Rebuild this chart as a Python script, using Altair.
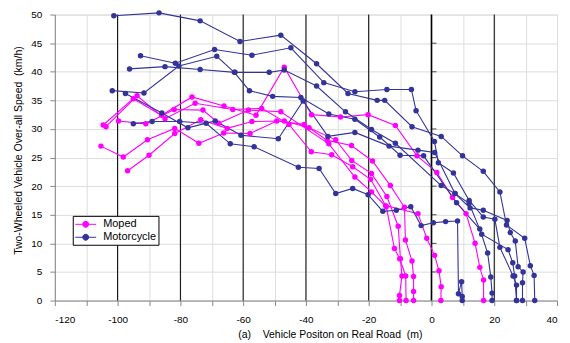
import altair as alt
import pandas as pd

# ---- Moped runs (position m, speed km/h) ----
moped_1_x = [-105.3, -98.2, -90.5, -81.8, -74.1, -66.2, -57.8, -49.3, -40.6, -33.2, -25.5, -18.8, -13.1, -8.6, -8.3, -6.2, -5.7, -5.7, -5.7]
moped_1_y = [27.0, 25.1, 28.1, 30.1, 27.5, 29.3, 29.2, 31.4, 30.8, 28.0, 27.1, 24.4, 20.1, 16.3, 10.6, 6.9, 4.2, 1.6, 0.0]
moped_2_x = [-96.8, -90.0, -81.8, -73.5, -65.1, -57.2, -46.9, -39.0, -30.5, -25.4, -19.1, -14.2, -10.6, -9.9, -9.4, -10.2, -10.2]
moped_2_y = [22.7, 25.4, 29.2, 31.6, 30.1, 31.3, 31.4, 30.2, 28.1, 24.5, 22.2, 18.2, 13.0, 7.3, 4.3, 0.9, 0.0]
moped_3_x = [-104.6, -95.0, -86.0, -76.3, -66.1, -55.9, -46.9, -38.2, -29.0, -20.2, -11.5, -4.6, 1.7, 6.7, 11.0, 13.9, 15.4, 16.6, 16.6]
moped_3_y = [30.7, 35.3, 32.4, 35.6, 34.0, 32.4, 40.8, 32.5, 32.1, 32.5, 30.6, 25.3, 22.4, 18.0, 15.2, 10.0, 5.8, 3.6, 0.0]
moped_4_x = [-103.7, -93.8, -84.9, -75.3, -63.3, -54.1, -45.4, -38.3, -31.8, -25.1, -19.4, -14.6, -4.3, -1.5, 1.0, 2.4, 3.1, 3.0]
moped_4_y = [30.4, 35.8, 31.8, 34.5, 33.4, 33.6, 30.8, 26.0, 25.5, 23.4, 21.2, 16.6, 15.2, 10.9, 7.9, 5.2, 2.4, 0.0]
moped_5_x = [-99.7, -91.0, -82.0, -72.8, -67.8, -58.3, -48.0, -32.7, -24.4, -19.1, -14.4, -11.8, -10.1, -8.2, -8.1]
moped_5_y = [31.4, 30.9, 33.4, 33.3, 31.0, 33.3, 33.0, 27.4, 21.6, 19.0, 16.4, 9.1, 7.3, 4.3, 0.0]

# ---- Motorcycle runs ----
moto_1_x = [-101.2, -86.8, -73.7, -61.0, -48.0, -36.6, -26.6, -17.3, -14.9, -6.2, 3.1, 9.9, 16.5, 21.8, 23.9, 29.7, 31.5, 32.7, 32.9]
moto_1_y = [49.8, 50.3, 48.9, 45.3, 46.4, 41.4, 36.2, 35.0, 35.0, 30.4, 28.7, 25.3, 22.6, 19.0, 13.2, 10.9, 6.1, 4.4, 0.0]
moto_2_x = [-92.7, -81.6, -69.1, -57.2, -44.8, -34.3, -24.4, -14.2, -6.4, -4.9, 0.95, 2.2, 7.0, 12.0, 16.5, 20.2, 21.8, 26.0, 27.1, 27.1]
moto_2_y = [42.8, 41.5, 43.9, 42.9, 44.2, 38.1, 36.5, 36.9, 36.9, 33.2, 27.8, 24.1, 22.3, 17.5, 14.6, 14.2, 9.3, 4.3, 2.7, 0.0]
moto_3_x = [-96.2, -84.9, -73.7, -62.6, -51.7, -46.9, -36.6, -27.4, -19.1, -11.5, 3.1, 7.5, 12.3, 16.5, 24.1, 25.1, 26.7, 27.6, 29.2, 29.0, 29.0]
moto_3_y = [40.5, 40.9, 40.4, 39.9, 39.9, 40.3, 37.5, 33.0, 29.9, 27.5, 20.1, 18.7, 16.2, 15.8, 14.0, 11.9, 10.4, 5.9, 5.0, 3.1, 0.0]
moto_4_x = [-101.7, -91.6, -80.5, -68.4, -62.8, -58.0, -50.6, -41.6, -32.7, -24.4, -16.5, -10.0, -2.5, 8.0, 15.4, 17.9, 18.9, 19.3, 19.3]
moto_4_y = [36.7, 36.3, 41.0, 42.7, 39.9, 36.7, 35.7, 35.5, 32.6, 31.7, 28.6, 25.4, 25.3, 17.1, 12.5, 8.3, 4.1, 1.3, 0.0]
moto_5_x = [-97.5, -85.9, -77.6, -68.9, -60.7, -48.8, -40.9, -33.0, -24.4, -13.5, -4.3, 1.0, 7.5, 12.0, 16.0, 24.4, 25.9, 26.5, 27.1]
moto_5_y = [36.2, 32.8, 30.2, 31.4, 28.9, 28.3, 34.9, 28.7, 29.4, 27.0, 26.3, 25.9, 18.7, 17.0, 11.6, 8.9, 6.6, 4.3, 0.0]
moto_6_x = [-95.0, -89.0, -80.2, -71.8, -64.1, -56.5, -42.4, -35.8, -30.5, -25.1, -20.2, -15.5, -11.2, -6.6, -3.3, 0.6, 4.5, 8.3, 8.6, 9.6, 9.8, 9.8]
moto_6_y = [30.9, 31.3, 31.3, 31.0, 27.4, 26.9, 23.3, 23.1, 18.7, 19.6, 18.5, 15.6, 15.8, 16.4, 13.1, 13.6, 13.8, 13.9, 1.2, 3.3, 0.7, 0.0]

categories = ["Moped", "Motorcycle"]
colors = ["#ff00ff", "#333399"]
major_x = [-100, -80, -60, -40, -20, 20]
zero_x = [0]
speed_ticks = [5, 10, 15, 20, 25, 30, 35, 40, 45]

runs = [
    ("Moped", moped_1_x, moped_1_y), ("Moped", moped_2_x, moped_2_y),
    ("Moped", moped_3_x, moped_3_y), ("Moped", moped_4_x, moped_4_y),
    ("Moped", moped_5_x, moped_5_y),
    ("Motorcycle", moto_1_x, moto_1_y), ("Motorcycle", moto_2_x, moto_2_y),
    ("Motorcycle", moto_3_x, moto_3_y), ("Motorcycle", moto_4_x, moto_4_y),
    ("Motorcycle", moto_5_x, moto_5_y), ("Motorcycle", moto_6_x, moto_6_y),
]
rows = []
for i, (kind, xs, ys) in enumerate(runs):
    for j, (xv, yv) in enumerate(zip(xs, ys)):
        rows.append({"type": kind, "run": i, "idx": j, "pos": xv, "speed": yv})
df = pd.DataFrame(rows)

FONT = "Liberation Sans"
NB = "\u00a0"
xscale = alt.Scale(domain=[-120, 40], nice=False, zero=False)
yscale = alt.Scale(domain=[0, 50], nice=False)
cscale = alt.Scale(domain=categories, range=colors)

xaxis = alt.Axis(
    values=list(range(-120, 41, 10)),
    labelExpr="datum.value % 20 == 0 ? '' + datum.value : ''",
    labelPadding=9,
    title="(a)" + NB * 3 + " Vehicle Positon on Real Road" + NB + " (m)", titleX=276, titleY=34,
    titleBaseline="middle", titleAlign="center",
    titleFontWeight="normal", titleFontSize=10.5, titleFont=FONT, titleColor="#000",
)
yaxis = alt.Axis(
    values=list(range(0, 51, 5)), labelPadding=8,
    title="Two-Wheeled Vehicle Over-all Speed" + NB + " (km/h)", titleX=-36, titleY=136,
    titleBaseline="middle", titleAlign="center", titleAngle=-90,
    titleFontWeight="normal", titleFontSize=10.5, titleFont=FONT, titleColor="#000",
)

X = alt.X("pos:Q", scale=xscale, axis=xaxis)
Y = alt.Y("speed:Q", scale=yscale, axis=yaxis)

rules = alt.Chart(pd.DataFrame({"pos": major_x})).mark_rule(color="#000", strokeWidth=1).encode(x=X)
zero_rule = alt.Chart(pd.DataFrame({"pos": zero_x})).mark_rule(color="#000", strokeWidth=1.6).encode(x=X)
zero_ticks = alt.Chart(pd.DataFrame({"speed": speed_ticks, "pos": [0] * len(speed_ticks)})).mark_tick(
    orient="horizontal", color="#000", size=5, thickness=1, xOffset=2.5
).encode(x=X, y=Y)

sym = "M-1.75,0H1.75M0.5,0A0.5,0.5,0,1,1,-0.5,0A0.5,0.5,0,1,1,0.5,0Z"
leg = alt.Legend(
    title=None, orient="none", legendX=18, legendY=202, direction="vertical",
    fillColor="#fff", strokeColor="#000", padding=2, rowPadding=1,
    labelFont=FONT, labelFontSize=11, labelColor="#000", labelOffset=11,
    symbolType=sym, symbolSize=144, symbolStrokeWidth=1, symbolOffset=4.5,
)

base = alt.Chart(df)
lines = base.mark_line(strokeWidth=1.1).encode(
    x=X, y=Y,
    color=alt.Color("type:N", scale=cscale, legend=leg),
    detail="run:N",
    order="idx:Q",
)
points = base.mark_point(filled=True, size=30, opacity=1).encode(
    x=X, y=Y,
    color=alt.Color("type:N", scale=cscale, legend=leg),
)

chart = alt.layer(rules, zero_rule, zero_ticks, lines, points).properties(
    width=504, height=287,
    autosize=alt.AutoSizeParams(type="none"),
    padding={"left": 47, "top": 6, "right": 5, "bottom": 41},
).configure_axis(
    grid=True, gridColor="#b8b8b8", gridWidth=1, ticks=False,
    domainColor="#000", domainWidth=1,
    labelFont=FONT, labelFontSize=11, labelColor="#000",
).configure_view(stroke="#b8b8b8", strokeWidth=1.5).configure(background="#fff")

chart.save("out.html", embed_options={"renderer": "svg", "actions": False})
